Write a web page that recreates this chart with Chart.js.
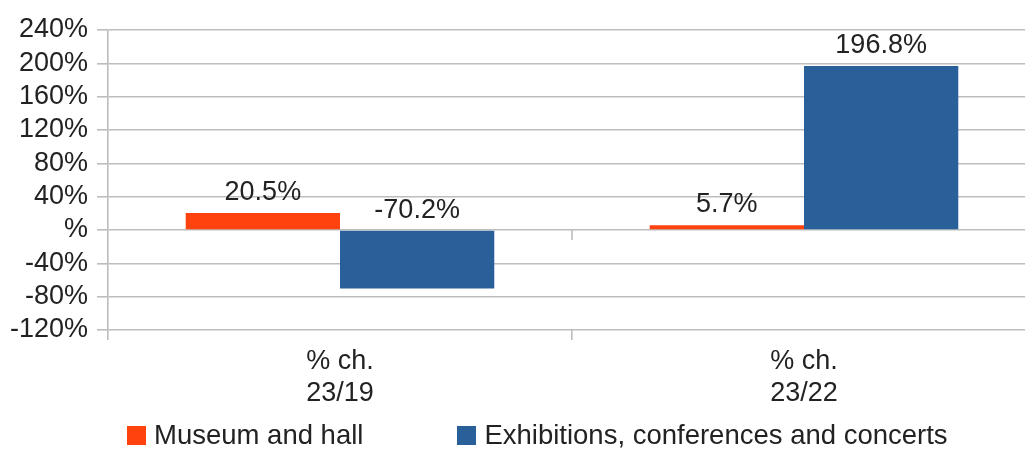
<!DOCTYPE html>
<html>
<head>
<meta charset="utf-8">
<script src="https://cdn.jsdelivr.net/npm/chart.js@4.4.1/dist/chart.umd.min.js"></script>
<style>
  html, body { margin: 0; padding: 0; background: #fff; overflow: hidden; width: 1025px; height: 449px; }
  #wrap { position: relative; width: 1040px; height: 449px; }
  canvas { display: block; }
  #legend { position: absolute; left: 127px; top: 419px; display: flex; white-space: nowrap; font: 27.5px "Liberation Sans", Arial, sans-serif; color: #222; }
  #legend .item { display: flex; flex: none; align-items: center; margin-right: 94px; }
  #legend .box { flex: none; width: 19px; height: 19px; margin-right: 8px; }
</style>
</head>
<body>
<div id="wrap">
  <canvas id="chart" width="1040" height="449"></canvas>
  <div id="legend"></div>
</div>
<script>
// Dữ liệu
const categories = [["% ch.", "23/19"], ["% ch.", "23/22"]];
const museumValues = [20.5, 5.7];
const exhibitionValues = [-70.2, 196.8];
const seriesNames = ["Museum and hall", "Exhibitions, conferences and concerts"];
const seriesColors = ["#ff420e", "#2a6099"];

const FONT = "'Liberation Sans', Arial, sans-serif";
const FONT_SIZE = 27;

// Nhãn giá trị phía trên cột
const valueLabels = {
  id: "valueLabels",
  afterDatasetsDraw(chart) {
    const { ctx } = chart;
    ctx.save();
    ctx.font = `${FONT_SIZE}px ${FONT}`;
    ctx.fillStyle = "#222";
    ctx.textAlign = "center";
    ctx.textBaseline = "alphabetic";
    chart.data.datasets.forEach((ds, i) => {
      chart.getDatasetMeta(i).data.forEach((bar, j) => {
        const top = Math.min(bar.y, bar.base);
        ctx.fillText(ds.data[j].toFixed(1) + "%", bar.x, top - 13);
      });
    });
    ctx.restore();
  },
};

// Vạch chia ở đường 0
const zeroTicks = {
  id: "zeroTicks",
  beforeDatasetsDraw(chart) {
    const { ctx, scales } = chart;
    const y0 = scales.y.getPixelForValue(0);
    ctx.save();
    ctx.strokeStyle = "#bdbdbd";
    ctx.lineWidth = 1.6;
    for (let i = 1; i < categories.length; i++) {
      const x = (scales.x.getPixelForValue(i - 1) + scales.x.getPixelForValue(i)) / 2;
      ctx.beginPath();
      ctx.moveTo(x, y0);
      ctx.lineTo(x, y0 + 10);
      ctx.stroke();
    }
    ctx.restore();
  },
};

const chart = new Chart(document.getElementById("chart"), {
  type: "bar",
  data: {
    labels: categories,
    datasets: [
      { label: seriesNames[0], data: museumValues, backgroundColor: seriesColors[0] },
      { label: seriesNames[1], data: exhibitionValues, backgroundColor: seriesColors[1] },
    ],
  },
  options: {
    responsive: false,
    animation: false,
    devicePixelRatio: 1,
    categoryPercentage: 0.665,
    barPercentage: 1.0,
    layout: { padding: { top: 30, right: 4, left: 0, bottom: 39 } },
    plugins: {
      legend: { display: false },
      tooltip: { enabled: false },
    },
    scales: {
      x: {
        grid: { offset: true, drawOnChartArea: false, tickLength: 10, color: "#bdbdbd", lineWidth: 1.6 },
        border: { display: false },
        ticks: { color: "#222", font: { family: FONT, size: FONT_SIZE }, padding: 5, maxRotation: 0, autoSkip: false },
        afterFit(scale) { scale.height = 80; },
      },
      y: {
        min: -120,
        max: 240,
        grid: { tickLength: 11, color: "#bdbdbd", lineWidth: 1.6 },
        border: { color: "#bdbdbd", width: 1.6 },
        ticks: {
          stepSize: 40,
          autoSkip: false,
          padding: 9,
          color: "#222",
          font: { family: FONT, size: FONT_SIZE },
          callback: (v) => (v === 0 ? "%" : v + "%"),
        },
        afterFit(scale) { scale.width = 108; },
      },
    },
  },
  plugins: [valueLabels, zeroTicks],
});

// Chú thích HTML
const legendEl = document.getElementById("legend");
chart.data.datasets.forEach((ds) => {
  const item = document.createElement("div");
  item.className = "item";
  const box = document.createElement("span");
  box.className = "box";
  box.style.background = ds.backgroundColor;
  const txt = document.createElement("span");
  txt.textContent = ds.label;
  item.appendChild(box);
  item.appendChild(txt);
  legendEl.appendChild(item);
});
</script>
</body>
</html>
